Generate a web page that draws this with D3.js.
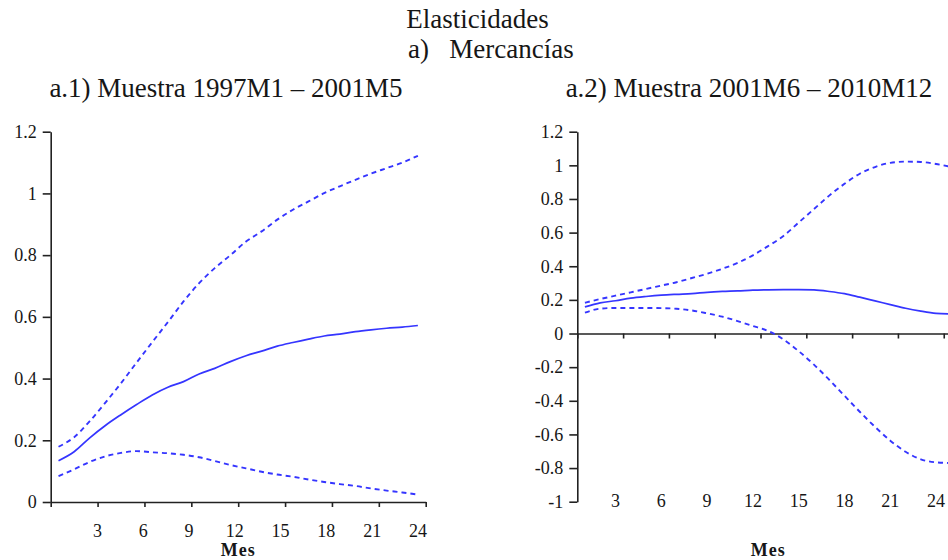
<!DOCTYPE html>
<html>
<head>
<meta charset="utf-8">
<script src="https://cdn.jsdelivr.net/npm/d3@7"></script>
<style>
body { margin:0; background:#fff; }
</style>
</head>
<body>
<svg width="948" height="560"></svg>
<script>
//months 1..24 for panel a.1, 1..25 for panel a.2 (the last one runs off the edge)
var monthsLeft = [1,2,3,4,5,6,7,8,9,10,11,12,13,14,15,16,17,18,19,20,21,22,23,24];
var monthsRight = [1,2,3,4,5,6,7,8,9,10,11,12,13,14,15,16,17,18,19,20,21,22,23,24,25];

//a.1) 1997M1 - 2001M5
var leftCentral = [0.134,0.163,0.208,0.248,0.283,0.316,0.347,0.372,0.39,0.415,0.433,0.455,
                   0.474,0.489,0.505,0.517,0.528,0.538,0.544,0.552,0.558,0.563,0.567,0.572];
var leftLower = [0.084,0.106,0.13,0.148,0.159,0.165,0.161,0.158,0.153,0.145,0.133,0.12,
                 0.109,0.098,0.089,0.082,0.073,0.065,0.058,0.052,0.044,0.037,0.031,0.024];
var leftUpper = [0.179,0.21,0.262,0.322,0.385,0.452,0.518,0.583,0.65,0.709,0.758,0.80,
                 0.844,0.877,0.915,0.947,0.974,1.001,1.023,1.044,1.064,1.082,1.10,1.122];

//a.2) 2001M6 - 2010M12
var rightCentral = [0.158,0.182,0.195,0.21,0.22,0.228,0.233,0.237,0.245,0.25,0.253,0.258,
                    0.26,0.261,0.261,0.259,0.25,0.237,0.216,0.194,0.172,0.15,0.133,0.12,0.116];
var rightLower = [0.124,0.148,0.152,0.152,0.152,0.151,0.147,0.137,0.12,0.1,0.074,0.045,
                  0.015,-0.035,-0.105,-0.185,-0.275,-0.37,-0.465,-0.555,-0.637,-0.703,-0.748,-0.766,-0.77];
var rightUpper = [0.183,0.205,0.225,0.245,0.265,0.285,0.305,0.33,0.355,0.385,0.42,0.465,
                  0.52,0.58,0.66,0.74,0.82,0.89,0.95,0.99,1.015,1.022,1.02,1.008,0.99];

var xTicks = [3,6,9,12,15,18,21,24];
var yTicksLeft = [0,0.2,0.4,0.6,0.8,1,1.2];
var yTicksRight = [-1,-0.8,-0.6,-0.4,-0.2,0,0.2,0.4,0.6,0.8,1,1.2];

var svg = d3.select("svg");
var blue = "#3535ff";
var serif = "'Liberation Serif','Times New Roman',serif";

var fmt = function(d) { return String(+d.toFixed(1)); };

var drawLines = function(target, months, series, xScale, yScale)
{
    var line = d3.line()
        .x(function(d,i){ return xScale(months[i] - 0.5); })
        .y(function(d){ return yScale(d); })
        .curve(d3.curveMonotoneX);

    series.forEach(function(s)
    {
        target.append("path")
            .attr("d", line(s.values))
            .attr("fill","none")
            .attr("stroke",blue)
            .attr("stroke-width", s.dashed ? 1.9 : 1.7)
            .attr("stroke-dasharray", s.dashed ? "5,4" : null);
    });
}

var drawPanel = function(p)
{
    var g = svg.append("g");

    //y axis
    var yAxis = d3.axisLeft(p.y)
        .tickValues(p.yTicks)
        .tickSize(8)
        .tickSizeOuter(0)
        .tickPadding(6)
        .tickFormat(fmt);
    var ya = g.append("g")
        .attr("transform","translate("+p.x.range()[0]+",0)")
        .call(yAxis);
    ya.selectAll("text")
        .attr("fill","#161616")
        .style("font-family",serif)
        .style("font-size","18px");
    ya.selectAll("line,path").attr("stroke","#222").attr("stroke-width",1.6);

    //x axis (tick marks only) at zero
    var xAxis = d3.axisBottom(p.x)
        .tickValues([0].concat(xTicks))
        .tickSize(5)
        .tickSizeOuter(0)
        .tickFormat("");
    var xa = g.append("g")
        .attr("transform","translate(0,"+p.y(0)+")")
        .call(xAxis);
    xa.selectAll("line,path").attr("stroke","#222").attr("stroke-width",1.6);

    //month labels
    g.selectAll(".xlab")
        .data(xTicks)
        .enter()
        .append("text")
        .attr("class","xlab")
        .attr("x",function(d){ return p.labelX(d); })
        .attr("y",p.labelY)
        .attr("text-anchor","middle")
        .attr("fill","#161616")
        .style("font-family",serif)
        .style("font-size","18px")
        .text(function(d){ return d; });

    g.append("text")
        .attr("x",(p.x.range()[0]+p.x.range()[1])/2)
        .attr("y",556)
        .attr("text-anchor","middle")
        .attr("fill","#161616")
        .style("font-family",serif)
        .style("font-size","18px")
        .style("font-weight","bold")
        .style("letter-spacing","1px")
        .text("Mes");

    g.append("text")
        .attr("x",p.titleX)
        .attr("y",97)
        .attr("text-anchor","middle")
        .attr("fill","#161616")
        .style("font-family",serif)
        .style("font-size","27px")
        .text(p.title);

    drawLines(g, p.months, p.series, p.x, p.y);
}

//left panel
var xL = d3.scaleLinear().domain([0,24]).range([50.7,425.7]);
var yL = d3.scaleLinear().domain([0,1.2]).range([502,131.7]);
var labelXL = d3.scaleLinear().domain([3,24]).range([xL(3),xL(23.5)]);

//right panel
var xR = d3.scaleLinear().domain([0,25]).range([577.3,959]);
var yR = d3.scaleLinear().domain([-1,1.2]).range([501.7,131.7]);

drawPanel({
    x:xL, y:yL, yTicks:yTicksLeft, months:monthsLeft,
    labelX:labelXL, labelY:537,
    title:"a.1) Muestra 1997M1 \u2013 2001M5", titleX:226,
    series:[{values:leftUpper,dashed:true},{values:leftCentral,dashed:false},{values:leftLower,dashed:true}]
});

drawPanel({
    x:xR, y:yR, yTicks:yTicksRight, months:monthsRight,
    labelX:function(d){ return xR(d-0.5); }, labelY:506.5,
    title:"a.2) Muestra 2001M6 \u2013 2010M12", titleX:749,
    series:[{values:rightUpper,dashed:true},{values:rightCentral,dashed:false},{values:rightLower,dashed:true}]
});

//main titles
svg.append("text")
    .attr("x",477.5).attr("y",28)
    .attr("text-anchor","middle")
    .attr("fill","#161616")
    .style("font-family",serif)
    .style("font-size","27px")
    .text("Elasticidades");

svg.append("text")
    .attr("x",408).attr("y",58)
    .attr("fill","#161616")
    .style("font-family",serif)
    .style("font-size","27px")
    .style("white-space","pre")
    .text("a)   Mercancías");
</script>
</body>
</html>
